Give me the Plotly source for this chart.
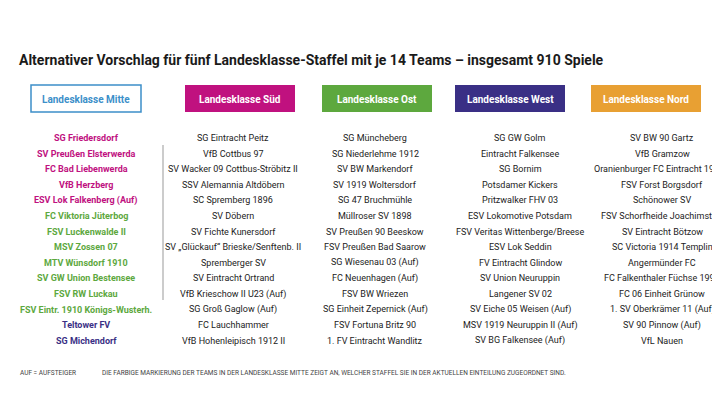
import plotly.graph_objects as go

title = "Alternativer Vorschlag für fünf Landesklasse-Staffel mit je 14 Teams – insgesamt 910 Spiele"
leagues = ["Landesklasse Mitte", "Landesklasse Süd", "Landesklasse Ost", "Landesklasse West", "Landesklasse Nord"]
league_colors = ["#FFFFFF", "#C0117F", "#5DA83E", "#3A2F85", "#E8A033"]
mitte = ["SG Friedersdorf", "SV Preußen Elsterwerda", "FC Bad Liebenwerda", "VfB Herzberg", "ESV Lok Falkenberg (Auf)",
         "FC Viktoria Jüterbog", "FSV Luckenwalde II", "MSV Zossen 07", "MTV Wünsdorf 1910", "SV GW Union Bestensee",
         "FSV RW Luckau", "FSV Eintr. 1910 Königs-Wusterh.", "Teltower FV", "SG Michendorf"]
mitte_target = [1]*5 + [2]*7 + [3]*2
sued = ["SG Eintracht Peitz", "VfB Cottbus 97", "SV Wacker 09 Cottbus-Ströbitz II", "SSV Alemannia Altdöbern", "SC Spremberg 1896",
        "SV Döbern", "SV Fichte Kunersdorf", "SV „Glückauf“ Brieske/Senftenb. II", "Spremberger SV", "SV Eintracht Ortrand",
        "VfB Krieschow II U23 (Auf)", "SG Groß Gaglow (Auf)", "FC Lauchhammer", "VfB Hohenleipisch 1912 II"]
ost = ["SG Müncheberg", "SG Niederlehme 1912", "SV BW Markendorf", "SV 1919 Woltersdorf", "SG 47 Bruchmühle",
       "Müllroser SV 1898", "SV Preußen 90 Beeskow", "FSV Preußen Bad Saarow", "SG Wiesenau 03 (Auf)", "FC Neuenhagen (Auf)",
       "FSV BW Wriezen", "SG Einheit Zepernick (Auf)", "FSV Fortuna Britz 90", "1. FV Eintracht Wandlitz"]
west = ["SG GW Golm", "Eintracht Falkensee", "SG Bornim", "Potsdamer Kickers", "Pritzwalker FHV 03",
        "ESV Lokomotive Potsdam", "FSV Veritas Wittenberge/Breese", "ESV Lok Seddin", "FV Eintracht Glindow", "SV Union Neuruppin",
        "Langener SV 02", "SV Eiche 05 Weisen (Auf)", "MSV 1919 Neuruppin II (Auf)", "SV BG Falkensee (Auf)"]
nord = ["SV BW 90 Gartz", "VfB Gramzow", "Oranienburger FC Eintracht 1901 II", "FSV Forst Borgsdorf", "Schönower SV",
        "FSV Schorfheide Joachimsthal", "SV Eintracht Bötzow", "SC Victoria 1914 Templin", "Angermünder FC", "FC Falkenthaler Füchse 1994",
        "FC 06 Einheit Grünow", "1. SV Oberkrämer 11 (Auf)", "SV 90 Pinnow (Auf)", "VfL Nauen"]
footnote_left = "AUF = AUFSTEIGER"
footnote_right = "DIE FARBIGE MARKIERUNG DER TEAMS IN DER LANDESKLASSE MITTE ZEIGT AN, WELCHER STAFFEL SIE IN DER AKTUELLEN EINTEILUNG ZUGEORDNET SIND."

FONT = "Roboto, sans-serif"
box_x = [78, 232, 369, 502, 638]
col_x = [78, 225, 367, 512, 654]
row0, dy = 130, 15.6

fig = go.Figure()
fig.add_trace(go.Scatter(x=[0, 720], y=[0, 405], mode="markers", marker=dict(opacity=0), hoverinfo="skip", showlegend=False))
shapes, ann = [], []
ann.append(dict(x=9, y=52, text="<b>" + title + "</b>", xanchor="left", yanchor="middle", showarrow=False,
                font=dict(family=FONT, size=14, color="#1a1a1a")))
for i, (lg, c) in enumerate(zip(leagues, league_colors)):
    cx = box_x[i]
    if i == 0:
        shapes.append(dict(type="rect", x0=cx-55, x1=cx+55, y0=77, y1=104, line=dict(color="#3C8FC9", width=1.5), fillcolor="white"))
        tc = "#3C8FC9"
    else:
        shapes.append(dict(type="rect", x0=cx-55, x1=cx+55, y0=77, y1=104, line=dict(width=0), fillcolor=c))
        tc = "white"
    ann.append(dict(x=cx, y=91, text="<b>" + lg + "</b>", showarrow=False, font=dict(family=FONT, size=10, color=tc)))

mitte_colors = {1: league_colors[1], 2: league_colors[2], 3: league_colors[3]}
for j, name in enumerate(mitte):
    ann.append(dict(x=col_x[0], y=row0 + j*dy, text="<b>" + name + "</b>", showarrow=False,
                    font=dict(family=FONT, size=9, color=mitte_colors[mitte_target[j]])))
for k, lst in enumerate([sued, ost, west, nord]):
    for j, name in enumerate(lst):
        ann.append(dict(x=col_x[k+1], y=row0 + j*dy, text=name, showarrow=False,
                        font=dict(family=FONT, size=9, color="#222222")))
shapes.append(dict(type="line", x0=155, x1=155, y0=137, y1=292, line=dict(color="#999999", width=1)))
ann.append(dict(x=10, y=365, text=footnote_left, xanchor="left", showarrow=False, font=dict(family=FONT, size=6.5, color="#444")))
ann.append(dict(x=92, y=365, text=footnote_right, xanchor="left", showarrow=False, font=dict(family=FONT, size=6.5, color="#444")))

fig.update_layout(width=720, height=405, margin=dict(l=0, r=0, t=0, b=0), plot_bgcolor="white", paper_bgcolor="white",
                  xaxis=dict(range=[0, 720], visible=False, fixedrange=True),
                  yaxis=dict(range=[405, 0], visible=False, fixedrange=True),
                  shapes=shapes, annotations=ann)
fig.write_html("out.html")
